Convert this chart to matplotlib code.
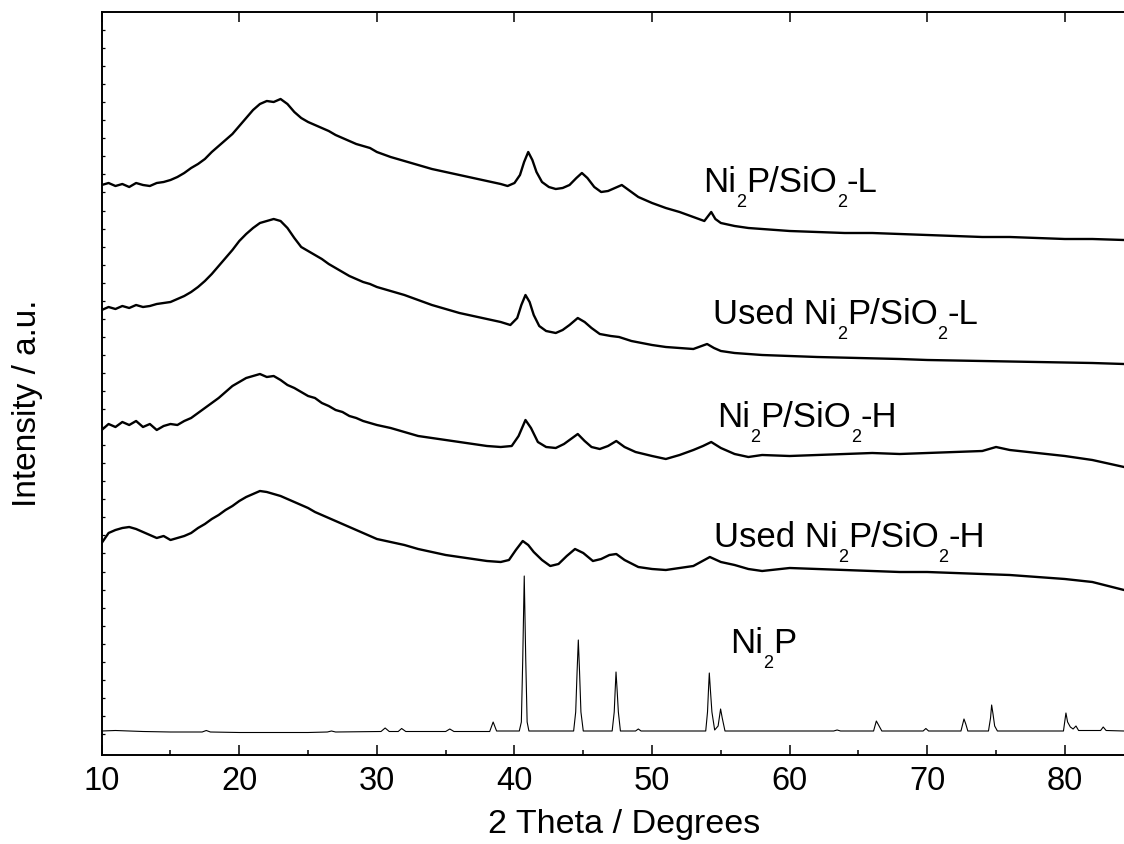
import numpy as np
import matplotlib
matplotlib.use("Agg")
import matplotlib.pyplot as plt

plt.rcParams['font.family'] = ['Liberation Sans', 'DejaVu Sans']

# ---- data (2 theta in degrees, intensity in arbitrary units incl. vertical offset) ----
x_L = [10, 10.5, 11, 11.5, 12, 12.5, 13, 13.5, 14, 14.5, 15, 15.5, 16, 16.5, 17, 17.5, 18, 18.5, 19, 19.5,
       20, 20.5, 21, 21.5, 22, 22.5, 23, 23.5, 24, 24.5, 25, 25.5, 26, 26.5, 27, 27.5, 28, 28.5, 29, 29.5,
       30, 31, 32, 33, 34, 35, 36, 37, 38, 39, 39.5, 40, 40.4, 40.7, 41.0, 41.3, 41.6, 42, 42.5, 43,
       43.5, 44, 44.5, 44.9, 45.3, 45.8, 46.3, 46.8, 47.3, 47.8, 48.3, 49, 50, 51, 52, 53, 53.8, 54.3, 54.6, 55,
       56, 57, 58, 60, 62, 64, 66, 68, 70, 72, 74, 76, 78, 80, 82, 84.3]
I_L = [570, 572, 569, 571, 568, 572, 570, 569, 572, 573, 575, 578, 582, 587, 591, 596, 603, 609, 615, 621,
       629, 637, 645, 651, 654, 653, 656, 651, 643, 637, 633, 630, 627, 624, 620, 617, 614, 611, 609, 607,
       603, 598, 594, 590, 586, 583, 580, 577, 574, 571, 569, 572, 580, 593, 603, 595, 583, 573, 568, 566,
       567, 570, 577, 582, 577, 568, 563, 564, 567, 570, 565, 558, 552, 547, 543, 538, 534, 543, 536, 532,
       529, 527, 526, 524, 523, 522, 522, 521, 520, 519, 518, 518, 517, 516, 516, 515]

x_usedL = [10, 10.5, 11, 11.5, 12, 12.5, 13, 13.5, 14, 14.5, 15, 15.5, 16, 16.5, 17, 17.5, 18, 18.5, 19, 19.5,
           20, 20.5, 21, 21.5, 22, 22.5, 23, 23.5, 24, 24.5, 25, 25.5, 26, 26.5, 27, 27.5, 28, 28.5, 29, 29.5,
           30, 31, 32, 33, 34, 35, 36, 37, 38, 39, 39.7, 40.2, 40.5, 40.8, 41.1, 41.4, 41.8, 42.3, 43, 43.5,
           44, 44.6, 45.1, 45.6, 46.2, 47, 47.6, 48.5, 50, 51, 52, 53, 54, 54.5, 55, 56, 58, 60, 62, 65,
           68, 70, 74, 78, 82, 84.3]
I_usedL = [445, 448, 446, 449, 447, 450, 448, 449, 451, 452, 453, 456, 459, 463, 468, 474, 481, 489, 497, 505,
           514, 521, 527, 532, 534, 536, 534, 527, 517, 508, 504, 500, 496, 491, 487, 483, 479, 476, 473, 471,
           468, 464, 460, 455, 450, 446, 442, 439, 436, 433, 430, 437, 450, 460, 453, 440, 429, 424, 422, 425,
           430, 437, 433, 427, 421, 419, 418, 414, 410, 408, 407, 406, 411, 407, 404, 402, 400, 399, 398, 397,
           396, 395, 394, 393, 392, 391]

x_H = [10, 10.5, 11, 11.5, 12, 12.5, 13, 13.5, 14, 14.5, 15, 15.5, 16, 16.5, 17, 17.5, 18, 18.5, 19, 19.5,
       20, 20.5, 21, 21.5, 22, 22.5, 23, 23.5, 24, 24.5, 25, 25.5, 26, 26.5, 27, 27.5, 28, 28.5, 29, 29.5,
       30, 31, 32, 33, 34, 35, 36, 37, 38, 39, 39.8, 40.3, 40.8, 41.2, 41.7, 42.3, 43, 43.6, 44.2, 44.6,
       45.1, 45.6, 46.2, 46.8, 47.4, 48, 48.8, 50, 51, 52, 53, 53.7, 54.3, 55, 56, 57, 58, 60, 62, 64,
       66, 68, 70, 72, 74, 75, 76, 78, 80, 82, 84.3]
I_H = [325, 331, 328, 333, 330, 334, 328, 331, 325, 329, 331, 330, 334, 337, 342, 347, 352, 357, 363, 369,
       373, 377, 379, 381, 378, 379, 375, 370, 367, 363, 359, 357, 352, 349, 345, 343, 339, 337, 334, 332,
       330, 327, 323, 319, 317, 315, 313, 311, 309, 308, 309, 319, 335, 327, 313, 308, 307, 311, 317, 321,
       314, 308, 306, 309, 314, 308, 303, 299, 296, 300, 305, 309, 313, 307, 301, 298, 300, 299, 300, 301,
       302, 301, 302, 303, 304, 308, 305, 302, 299, 295, 288]

x_usedH = [10, 10.5, 11, 11.5, 12, 12.5, 13, 13.5, 14, 14.5, 15, 15.5, 16, 16.5, 17, 17.5, 18, 18.5, 19, 19.5,
           20, 20.5, 21, 21.5, 22, 22.5, 23, 23.5, 24, 24.5, 25, 25.5, 26, 26.5, 27, 27.5, 28, 28.5, 29, 29.5,
           30, 31, 32, 33, 34, 35, 36, 37, 38, 39, 39.6, 40.1, 40.6, 41.0, 41.4, 42, 42.6, 43.2, 43.8, 44.4,
           45, 45.7, 46.3, 46.9, 47.4, 48, 49, 50, 51, 52, 53, 54.2, 55, 56, 57, 58, 60, 62, 64, 66,
           68, 70, 72, 74, 76, 78, 80, 82, 84.3]
I_usedH = [212, 222, 225, 227, 228, 226, 223, 220, 217, 219, 215, 217, 219, 222, 227, 231, 236, 240, 245, 249,
           254, 258, 261, 264, 263, 261, 259, 256, 253, 250, 247, 243, 240, 237, 234, 231, 228, 225, 222, 219,
           216, 213, 210, 206, 203, 200, 198, 196, 194, 193, 195, 205, 214, 210, 203, 195, 189, 191, 199, 206,
           202, 194, 196, 200, 201, 195, 188, 186, 185, 187, 189, 198, 193, 190, 186, 184, 187, 186, 185, 184,
           183, 183, 182, 181, 180, 178, 176, 173, 165]

x_Ni2P = [10, 11, 12, 13, 15, 17.3, 17.6, 17.9, 20, 25, 26.4, 26.7, 27, 30.3, 30.6, 30.9, 31.55, 31.8, 32.1, 35.0,
          35.3, 35.6, 38.2, 38.45, 38.7, 40.35, 40.5, 40.6, 40.71, 40.82, 40.92, 41.05, 44.3, 44.45, 44.55, 44.64,
          44.73, 44.83, 45.0, 47.1, 47.25, 47.32, 47.38, 47.46, 47.55, 47.7, 48.8, 49.0, 49.2, 53.9,
          54.03, 54.1, 54.16, 54.24, 54.35, 54.55, 54.8, 54.98, 55.1, 55.3, 63.2, 63.45, 63.7, 66.1, 66.3, 66.5,
          66.7, 69.7, 69.9, 70.1, 72.45, 72.67, 72.8, 72.95, 74.45, 74.6, 74.68, 74.78, 74.9, 75.1,
          79.9, 80.08, 80.2, 80.4, 80.6, 80.81, 81.0, 82.6, 82.79, 83.0, 84.3]
I_Ni2P = [24, 24.5, 24, 23.5, 23, 23, 24.5, 23, 22.5, 22.5, 23, 24, 23, 23.5, 27, 23.5, 23.5, 26.5, 23.5, 23.5,
          26, 23.5, 23.5, 33, 24, 24, 33, 95, 179, 95, 33, 24, 24, 43, 83, 115,
          83, 43, 24, 24, 43, 65, 83, 65, 43, 24, 24, 26, 24, 24,
          43, 65, 82, 65, 43, 25, 29, 46, 37, 24, 24, 25, 24, 24, 34, 29,
          24, 24, 26.5, 24, 24, 36, 31, 24, 24, 37, 50, 41, 29, 24,
          24, 42, 33, 28, 26, 29, 24.5, 24.5, 28, 24.5, 24]

# label text as (segment, is_subscript)
label_L = [('Ni', 0), ('2', 1), ('P/SiO', 0), ('2', 1), ('-L', 0)]
label_usedL = [('Used Ni', 0), ('2', 1), ('P/SiO', 0), ('2', 1), ('-L', 0)]
label_H = [('Ni', 0), ('2', 1), ('P/SiO', 0), ('2', 1), ('-H', 0)]
label_usedH = [('Used Ni', 0), ('2', 1), ('P/SiO', 0), ('2', 1), ('-H', 0)]
label_Ni2P = [('Ni', 0), ('2', 1), ('P', 0)]
xticks = [10, 20, 30, 40, 50, 60, 70, 80]

# ---- figure ----
W, H = 1124, 844
fig = plt.figure(figsize=(W / 100, H / 100), dpi=100)
ax_l, ax_r, ax_b, ax_t = 101.7, 1124, 755, 12
ax = fig.add_axes([ax_l / W, 1 - ax_b / H, (ax_r - ax_l) / W, (ax_b - ax_t) / H])

noisy_lw = 1.7
ax.plot(x_L, I_L, color='black', lw=noisy_lw)
ax.plot(x_usedL, I_usedL, color='black', lw=noisy_lw)
ax.plot(x_H, I_H, color='black', lw=noisy_lw)
ax.plot(x_usedH, I_usedH, color='black', lw=noisy_lw)
ax.plot(x_Ni2P, I_Ni2P, color='black', lw=0.8)

ax.set_xlim(10, 84.3)
ax.set_ylim(0, 743)

ax.spines['right'].set_visible(False)
for s in ['left', 'bottom', 'top']:
    ax.spines[s].set_linewidth(1.4)

ax.set_xticks(xticks)
ax.set_xticks(np.arange(15, 85, 10), minor=True)
ax.tick_params(axis='x', which='major', direction='in', length=7.2, width=1.1,
               labelsize=23.5, pad=8, top=True, labeltop=False)
ax.tick_params(axis='x', which='minor', direction='in', length=3.6, width=1.1, top=False)

ytick_pos = 755 - (30 + 18.05 * np.arange(0, 40))
ax.set_yticks(ytick_pos)
ax.tick_params(axis='y', direction='in', length=2.5, width=0.9, labelleft=False)

renderer = fig.canvas.get_renderer()
MAIN_FS, SUB_FS, SUB_DROP = 25, 13, 15


def draw_label(x0, base_y, segments):
    x = x0
    for txt, sub in segments:
        yb = base_y + (SUB_DROP if sub else 0)
        t = fig.text(x / W, 1 - yb / H, txt, fontsize=SUB_FS if sub else MAIN_FS,
                     ha='left', va='baseline')
        x += t.get_window_extent(renderer).width


draw_label(703, 192, label_L)
draw_label(713, 324, label_usedL)
draw_label(717, 427, label_H)
draw_label(714, 547, label_usedH)
draw_label(730, 653, label_Ni2P)

fig.text(624 / W, 1 - 825 / H, '2 Theta / Degrees', fontsize=24.5, ha='center', va='center')
fig.text(27.5 / W, 1 - 403 / H, 'Intensity / a.u.', fontsize=24, ha='center', va='center', rotation=90)

fig.savefig('out.png', dpi=100)
